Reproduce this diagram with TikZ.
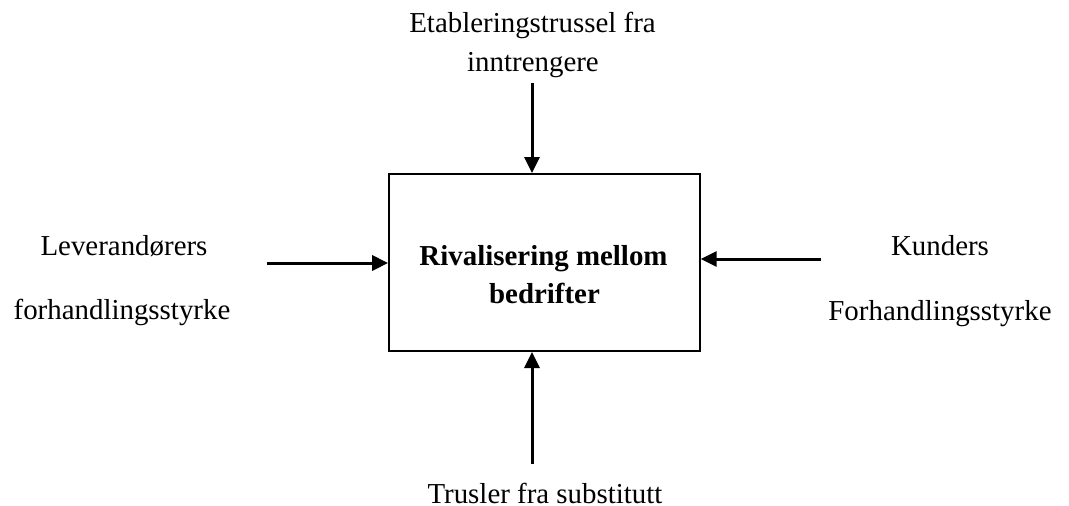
\documentclass[tikz,border=0pt]{standalone}
\usepackage{fontspec}
\setmainfont{Liberation Serif}
\usetikzlibrary{arrows.meta}
\begin{document}
\begin{tikzpicture}[x=1pt,y=-1pt,
  lbl/.style={font=\fontsize{28.9}{34}\selectfont, anchor=base, inner sep=0pt},
  blbl/.style={lbl, font=\fontsize{28.9}{34}\selectfont\bfseries},
  arr/.style={line width=3pt, -{Triangle[length=16pt,width=15pt]}},
  boxst/.style={draw, line width=2pt, minimum width=310.5pt, minimum height=177pt, inner sep=0pt}]
\useasboundingbox (0,0) rectangle (1069,506);
\node[boxst] (box) at (544.4,262.5) {};
\node[blbl] (r1) at (543.5,265) {Rivalisering mellom};
\node[blbl] (r2) at (544.5,303) {bedrifter};
\node[lbl] (e1) at (532.5,32) {Etableringstrussel fra};
\node[lbl] (e2) at (533,71) {inntrengere};
\node[lbl] (l1) at (124,255) {Leverandørers};
\node[lbl] (l2) at (122,319) {forhandlingsstyrke};
\node[lbl] (k1) at (940,255) {Kunders};
\node[lbl] (k2) at (940,320) {Forhandlingsstyrke};
\node[lbl] (t1) at (545,503) {Trusler fra substitutt};
\coordinate (ta) at (532,83);
\coordinate (ba) at (532,464);
\coordinate (la) at (267,263);
\coordinate (ra) at (821,259);
\draw[arr] (ta) -- (ta |- box.north);
\draw[arr] (ba) -- (ba |- box.south);
\draw[arr] (la) -- (la -| box.west);
\draw[arr] (ra) -- (ra -| box.east);
\end{tikzpicture}
\end{document}
